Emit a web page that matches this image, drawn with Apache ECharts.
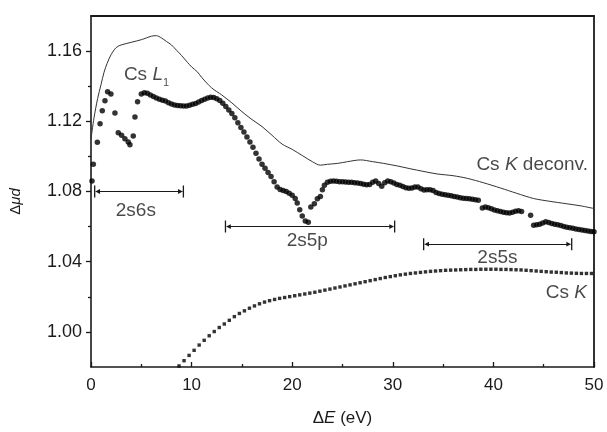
<!DOCTYPE html>
<html>
<head>
<meta charset="utf-8">
<script src="https://cdn.jsdelivr.net/npm/echarts@6/dist/echarts.min.js"></script>
<style>html,body{margin:0;padding:0;background:#fff}#c{width:607px;height:432px}</style>
</head>
<body>
<div id="c"></div>
<script>
// ---- data ----
const xTicks = [0, 10, 20, 30, 40, 50];
const yMajorTicks = [1.00, 1.04, 1.08, 1.12, 1.16];
const yMinorTicks = [1.02, 1.06, 1.10, 1.14];

// Cs K deconvoluted spectrum (thin line)
const csKDeconv = [
 [0,1.110],[0.3,1.122],[0.66,1.133],[1,1.141],[1.3,1.148],[1.6,1.153],[2,1.158],[2.5,1.162],[3,1.1635],
 [4,1.165],[5,1.1665],[5.5,1.1675],[6,1.1685],[6.5,1.1688],[7,1.1675],[7.5,1.1655],[8,1.1635],[8.5,1.1605],
 [9,1.1575],[9.6,1.1535],[10,1.151],[10.6,1.148],[11,1.145],[12,1.139],[13,1.135],[14,1.1305],[15,1.1255],
 [16,1.121],[17,1.117],[18,1.112],[19,1.107],[20,1.104],[21,1.1005],[22,1.097],[22.8,1.095],[23.5,1.0955],
 [24.5,1.096],[25.5,1.097],[26.8,1.098],[28,1.097],[29.1,1.096],[30.5,1.0945],[31.7,1.093],[33,1.0915],
 [34.4,1.090],[36,1.089],[37.4,1.0875],[39,1.085],[40.7,1.082],[42.3,1.079],[44,1.076],[45.5,1.0745],
 [47.3,1.073],[48.7,1.0718],[50,1.0703]
];

// Cs L1 spectrum (large dots)
const csL1 = [
 [0.1,1.086],[0.23,1.0955],[0.63,1.108],[0.9,1.1186],[1.12,1.126],[1.39,1.1317],[1.65,1.1368],[1.98,1.1355],
 [2.38,1.1248],[2.71,1.1135],[3.04,1.112],[3.37,1.110],[3.7,1.1082],[3.87,1.1067],[4.2,1.1116],[4.37,1.1224],
 [4.63,1.1312],[5.0,1.1355],[5.3,1.1362],[5.6,1.136],[5.9,1.135],[6.2,1.1342],[6.5,1.1333],[6.8,1.1326],
 [7.1,1.132],[7.4,1.1315],[7.7,1.1305],[8.0,1.1298],[8.3,1.1293],[8.6,1.129],[8.9,1.1288],[9.2,1.1287],
 [9.5,1.1287],[9.8,1.1292],[10.1,1.1297],[10.4,1.1302],[10.7,1.131],[11.0,1.1318],[11.3,1.1325],[11.6,1.1333],
 [11.9,1.1337],[12.2,1.1335],[12.5,1.1328],[12.8,1.1318],[13.1,1.1303],[13.4,1.1285],[13.7,1.1265],[14.0,1.1245],
 [14.3,1.122],[14.6,1.1192],[14.9,1.1165],[15.2,1.1139],[15.5,1.111],[15.8,1.1082],[16.1,1.1052],[16.4,1.1018],
 [16.7,1.0985],[17.0,1.0955],[17.3,1.0932],[17.6,1.0908],[17.9,1.0885],[18.2,1.0855],[18.5,1.0825],[18.8,1.0812],
 [19.1,1.0805],[19.4,1.08],[19.7,1.079],[20.0,1.0778],[20.3,1.076],[20.5,1.0735],[20.75,1.0696],[21.0,1.066],
 [21.3,1.0632],[21.6,1.0625],[21.85,1.0712],[22.2,1.073],[22.5,1.0758],[22.8,1.0772],[23.0,1.081],[23.2,1.0835],
 [23.5,1.0852],[23.8,1.0858],[24.1,1.086],[24.4,1.0858],[24.7,1.0856],[25.0,1.0855],[25.3,1.0854],[25.6,1.0853],
 [25.9,1.0852],[26.2,1.085],[26.5,1.0848],[26.8,1.0846],[27.1,1.0842],[27.4,1.0838],[27.7,1.084],[28.0,1.0852],
 [28.3,1.086],[28.6,1.0845],[28.9,1.083],[29.2,1.085],[29.5,1.086],[29.8,1.0856],[30.1,1.0848],[30.4,1.084],
 [30.7,1.0835],[31.0,1.0828],[31.3,1.0822],[31.6,1.0818],[31.9,1.082],[32.2,1.0826],[32.5,1.0826],[32.8,1.0815],
 [33.1,1.0809],[33.4,1.081],[33.7,1.081],[34.0,1.0806],[34.3,1.0795],[34.6,1.0788],[34.9,1.0785],[35.2,1.0781],
 [35.5,1.0778],[35.8,1.0776],[36.1,1.0772],[36.4,1.0768],[36.7,1.0765],[37.0,1.0762],[37.3,1.076],[37.6,1.0758],
 [37.9,1.0756],[38.2,1.0753],[38.5,1.075],[38.9,1.0706],[39.2,1.0712],[39.5,1.0708],[39.8,1.0702],[40.1,1.0695],
 [40.4,1.069],[40.7,1.0686],[41.0,1.0682],[41.3,1.0679],[41.6,1.0677],[41.9,1.0682],[42.2,1.0688],[42.5,1.069],
 [42.8,1.0686],[43.7,1.0664],[44.0,1.0608],[44.3,1.061],[44.6,1.0614],[44.9,1.062],[45.2,1.0627],[45.5,1.0624],
 [45.8,1.0618],[46.1,1.0613],[46.4,1.061],[46.7,1.0606],[47.0,1.0601],[47.3,1.0597],[47.6,1.0593],[47.9,1.059],
 [48.2,1.0587],[48.5,1.0584],[48.8,1.0581],[49.1,1.0578],[49.4,1.0575],[49.7,1.0572],[50.0,1.057]
];

// Cs K spectrum (small square dots)
const csK = [
 [8.75,0.9806],[9.25,0.9836],[9.75,0.9866],[10.25,0.9895],[10.75,0.9925],[11.25,0.9952],[11.75,0.9978],
 [12.25,1.0002],[12.75,1.0025],[13.25,1.0045],[13.75,1.0066],[14.25,1.0087],[14.75,1.0105],[15.25,1.012],
 [15.75,1.0135],[16.25,1.0148],[16.75,1.016],[17.25,1.017],[17.75,1.0178],[18.25,1.0185],[18.75,1.0191],
 [19.25,1.0196],[19.75,1.0201],[20.25,1.0206],[20.75,1.0211],[21.25,1.0216],[21.75,1.0221],[22.25,1.0226],
 [22.75,1.0232],[23.25,1.0238],[23.75,1.0244],[24.25,1.025],[24.75,1.0256],[25.25,1.0262],[25.75,1.0268],
 [26.25,1.0274],[26.75,1.028],[27.25,1.0286],[27.75,1.0292],[28.25,1.0298],[28.75,1.0304],[29.25,1.031],
 [29.75,1.0315],[30.25,1.032],[30.75,1.0325],[31.25,1.0329],[31.75,1.0333],[32.25,1.0336],[32.75,1.0339],
 [33.25,1.0342],[33.75,1.0345],[34.25,1.0347],[34.75,1.0349],[35.25,1.0351],[35.75,1.0352],[36.25,1.0353],
 [36.75,1.0354],[37.25,1.0355],[37.75,1.0356],[38.25,1.0356],[38.75,1.0357],[39.25,1.0357],[39.75,1.0357],
 [40.25,1.0357],[40.75,1.0356],[41.25,1.0356],[41.75,1.0355],[42.25,1.0354],[42.75,1.0353],[43.25,1.0351],
 [43.75,1.0349],[44.25,1.0347],[44.75,1.0345],[45.25,1.0343],[45.75,1.0341],[46.25,1.034],[46.75,1.0338],
 [47.25,1.0336],[47.75,1.0335],[48.25,1.0334],[48.75,1.0333],[49.25,1.0333],[49.75,1.0333]
];

// range brackets: [label, xStart, xEnd, y]
const brackets = [
 ['2s6s', 0.6, 8.95, 1.080],
 ['2s5p', 13.6, 29.95, 1.060],
 ['2s5s', 33.3, 47.55, 1.050]
];
// bracket label positions: [label, x, y]
const bracketLabels = [
 ['2s6s', 4.46, 1.0688],
 ['2s5p', 21.5, 1.0518],
 ['2s5s', 40.4, 1.042]
];
// curve labels: [key, x, y]
const curveLabels = [
 ['csL1', 3.27, 1.1464],
 ['csKdec', 49.4, 1.0955],
 ['csK', 49.3, 1.0225]
];

// ---- chart ----
const FONT = 'Liberation Sans, Arial, Helvetica, sans-serif';
const INK = '#1a1a1a';
const chart = echarts.init(document.getElementById('c'), null, {renderer: 'canvas'});

const endSym = 'path://M0,0 L12,0 L12,1.3 L0,1.3 Z M6,1.3 L3.6,6 L8.4,6 Z';

const annoData = [];
bracketLabels.forEach(b => annoData.push({
  value: [b[1], b[2]],
  label: {show: true, position: 'inside', formatter: b[0], fontSize: 19, color: INK, fontFamily: FONT}
}));
const rich = {
  n: {fontSize: 19, color: INK, fontFamily: FONT, lineHeight: 28, verticalAlign: 'middle'},
  i: {fontSize: 19, color: INK, fontFamily: FONT, fontStyle: 'italic', lineHeight: 28, verticalAlign: 'middle'},
  s: {fontSize: 11, color: INK, fontFamily: FONT, lineHeight: 11, verticalAlign: 'bottom'}
};
const curveText = {
  csL1: '{n|Cs }{i|L}{s|1}',
  csKdec: '{n|Cs }{i|K}{n| deconv.}',
  csK: '{n|Cs }{i|K}'
};
curveLabels.forEach(c => annoData.push({
  value: [c[1], c[2]],
  label: {show: true, position: c[0] === 'csL1' ? 'right' : 'left', distance: 0,
          formatter: curveText[c[0]], rich: rich}
}));

const option = {
  backgroundColor: '#fff',
  animation: false,
  grid: {left: 90, right: 13, top: 16, bottom: 61, containLabel: false},
  xAxis: [
    {
      type: 'value', min: 0, max: 50, interval: 10, position: 'bottom',
      name: '{d|\u0394}{i|E}{d| (eV)}', nameLocation: 'middle', nameGap: 43,
      nameTextStyle: {rich: {
        d: {fontSize: 17, color: INK, fontFamily: FONT},
        i: {fontSize: 17, color: INK, fontFamily: FONT, fontStyle: 'italic'}
      }},
      axisLine: {show: true, lineStyle: {color: INK, width: 1.6}},
      axisTick: {show: true, inside: true, length: 5, lineStyle: {color: INK, width: 1.3}},
      minorTick: {show: true, splitNumber: 2, length: 3, lineStyle: {color: INK, width: 1.3}},
      axisLabel: {fontSize: 17, color: INK, fontFamily: FONT, margin: 10, formatter: v => String(v)},
      splitLine: {show: false}
    },
    {
      type: 'value', min: 0, max: 50, position: 'top',
      axisLine: {show: true, onZero: false, lineStyle: {color: INK, width: 1.8}},
      axisTick: {show: false}, axisLabel: {show: false}, splitLine: {show: false}
    }
  ],
  yAxis: [
    {
      type: 'value', min: 0.98, max: 1.18, interval: 0.02, position: 'left',
      name: '{d|\u0394}{i|\u03bcd}', nameLocation: 'middle', nameGap: 68, nameRotate: 90,
      nameTextStyle: {padding: [0, 0, 0, -20], rich: {
        d: {fontSize: 15, color: INK, fontFamily: FONT},
        i: {fontSize: 15, color: INK, fontFamily: FONT, fontStyle: 'italic'}
      }},
      axisLine: {show: true, onZero: false, lineStyle: {color: INK, width: 1.6}},
      axisTick: {show: true, inside: false, length: 5, customValues: yMajorTicks, lineStyle: {color: INK, width: 1.3}},
      axisLabel: {fontSize: 18, color: INK, fontFamily: FONT, margin: 9, customValues: yMajorTicks,
                  formatter: v => v.toFixed(2)},
      splitLine: {show: false}
    },
    {
      type: 'value', min: 0.98, max: 1.18, interval: 0.02, position: 'left',
      axisLine: {show: false},
      axisTick: {show: true, inside: false, length: 3, customValues: yMinorTicks, lineStyle: {color: INK, width: 1.3}},
      axisLabel: {show: false}, splitLine: {show: false}
    },
    {
      type: 'value', min: 0.98, max: 1.18, position: 'right',
      axisLine: {show: true, onZero: false, lineStyle: {color: INK, width: 1.8}},
      axisTick: {show: false}, axisLabel: {show: false}, splitLine: {show: false}
    }
  ],
  series: [
    {
      name: 'Cs K deconv.', type: 'line', data: csKDeconv, showSymbol: false, smooth: 0.3,
      lineStyle: {color: '#333', width: 1}, silent: true, z: 2
    },
    {
      name: 'Cs L1', type: 'scatter', data: csL1, symbol: 'circle', symbolSize: 5.5,
      itemStyle: {color: '#000'}, silent: true, z: 3
    },
    {
      name: 'Cs K', type: 'scatter', data: csK, symbol: 'rect', symbolSize: 3.4,
      itemStyle: {color: '#000'}, silent: true, z: 3
    },
    {
      name: 'annotations', type: 'scatter', data: annoData, symbolSize: 0, silent: true, z: 4,
      markLine: {
        silent: true, symbol: [endSym, endSym], symbolSize: [12, 6],
        label: {show: false},
        lineStyle: {color: INK, width: 1.2, type: 'solid'},
        data: brackets.map(b => [{coord: [b[1], b[3]]}, {coord: [b[2], b[3]]}])
      }
    }
  ]
};
chart.setOption(option);
</script>
</body>
</html>
